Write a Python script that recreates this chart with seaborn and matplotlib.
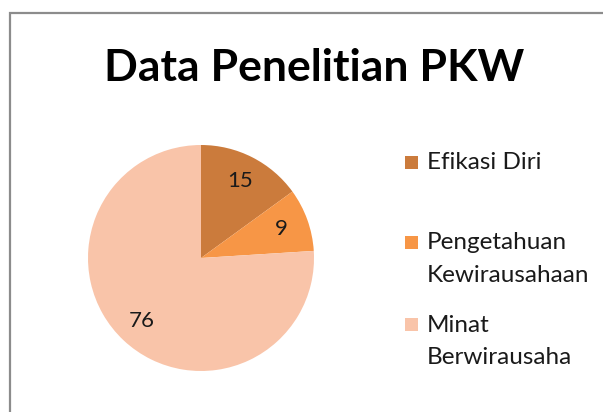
import matplotlib
matplotlib.use("Agg")
import matplotlib.pyplot as plt
import seaborn as sns
from matplotlib.patches import Rectangle

categories = ["Efikasi Diri", "Pengetahuan\nKewirausahaan", "Minat\nBerwirausaha"]
values = [15, 9, 76]
colors = ["#CB7B3C", "#F79646", "#F9C4A9"]

sns.set_theme(style="white")
plt.rcParams['font.family'] = ['Lato', 'DejaVu Sans']

W, H = 603, 412
fig = plt.figure(figsize=(W / 100, H / 100), dpi=100)
fig.patch.set_facecolor("white")

# chart border (runs off the right and bottom like the screenshot)
fig.patches.append(Rectangle((10 / W, -0.1), 1.2, 1 - 13 / H + 0.1,
                             transform=fig.transFigure, fill=False,
                             edgecolor="#8c8c8c", linewidth=1.6))

cx, cy, r = 201, 258, 113
ax = fig.add_axes([(cx - r) / W, (H - cy - r) / H, 2 * r / W, 2 * r / H])
wedges, texts, autotexts = ax.pie(
    values, colors=colors, startangle=90, counterclock=False,
    autopct=lambda p: f"{p * sum(values) / 100:.0f}", pctdistance=0.76,
    wedgeprops=dict(linewidth=0),
    textprops=dict(fontsize=16, color="#1a1a1a"))
ax.set_xlim(-1, 1)
ax.set_ylim(-1, 1)
ax.set_aspect("equal")
ax.axis("off")

fig.text(314 / W, 1 - 68 / H, "Data Penelitian PKW", ha="center", va="center",
         fontsize=32, fontweight="bold", color="black")

# legend drawn by hand so the marker sits on the first line, as in Excel
legend_y = [163, 243, 325]
line_gap = 33
for label, color, y in zip(categories, colors, legend_y):
    fig.patches.append(Rectangle((405 / W, 1 - (y + 6) / H), 13 / W, 13 / H,
                                 transform=fig.transFigure, facecolor=color,
                                 edgecolor="none"))
    for i, line in enumerate(label.split("\n")):
        fig.text(427 / W, 1 - (y + i * line_gap) / H, line, ha="left",
                 va="center", fontsize=17.5, color="#1a1a1a")

fig.savefig("out.png", dpi=100)
